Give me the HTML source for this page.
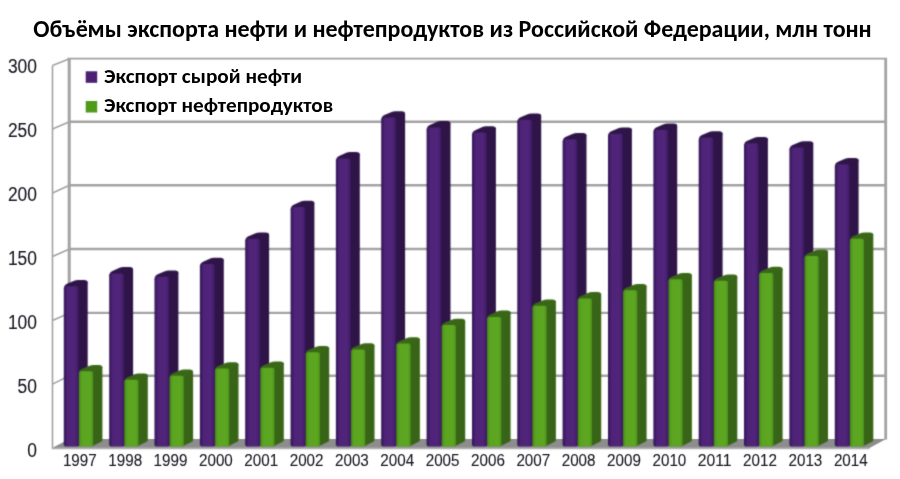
<!DOCTYPE html>
<html lang="ru"><head><meta charset="utf-8">
<title>Объёмы экспорта нефти и нефтепродуктов из Российской Федерации</title>
<style>
html,body{margin:0;padding:0;background:#fff;}
body{width:900px;height:479px;overflow:hidden;}
svg{display:block;}
.ttl{font-family:Carlito,"Liberation Sans",sans-serif;font-weight:bold;font-size:23.2px;fill:#000;font-size-adjust:0.485;}
.leg{font-family:Carlito,"Liberation Sans",sans-serif;font-weight:bold;font-size:20.6px;fill:#000;font-size-adjust:0.485;}
.ax{font-family:"Liberation Sans",Arial,sans-serif;fill:#1a1a24;}
</style></head><body>
<svg width="900" height="479" viewBox="0 0 900 479">
<defs>
<filter id="soft" x="0" y="0" width="100%" height="100%" filterUnits="userSpaceOnUse" color-interpolation-filters="sRGB"><feConvolveMatrix order="3" kernelMatrix="0.0361 0.1178 0.0361 0.1178 0.3846 0.1178 0.0361 0.1178 0.0361" edgeMode="duplicate" preserveAlpha="false"/></filter>
<filter id="softg" x="0" y="0" width="100%" height="100%" filterUnits="userSpaceOnUse" color-interpolation-filters="sRGB"><feConvolveMatrix order="3" kernelMatrix="0.0192 0.1001 0.0192 0.1001 0.5228 0.1001 0.0192 0.1001 0.0192" edgeMode="duplicate" preserveAlpha="false"/></filter>
<filter id="softt" x="0" y="0" width="100%" height="100%" filterUnits="userSpaceOnUse" color-interpolation-filters="sRGB"><feConvolveMatrix order="3" kernelMatrix="0.0113 0.0838 0.0113 0.0838 0.6193 0.0838 0.0113 0.0838 0.0113" edgeMode="duplicate" preserveAlpha="false"/></filter>
<linearGradient id="pf" x1="0" y1="0" x2="1" y2="0"><stop offset="0" stop-color="#2c124b"/><stop offset="0.1" stop-color="#3d1a64"/><stop offset="0.24" stop-color="#4e2378"/><stop offset="0.74" stop-color="#4f2479"/><stop offset="0.9" stop-color="#451e6d"/><stop offset="1" stop-color="#36155a"/></linearGradient>
<linearGradient id="gf" x1="0" y1="0" x2="1" y2="0"><stop offset="0" stop-color="#43801a"/><stop offset="0.1" stop-color="#50971d"/><stop offset="0.24" stop-color="#5ba520"/><stop offset="0.8" stop-color="#5ca621"/><stop offset="1" stop-color="#4f951c"/></linearGradient>
</defs>
<rect width="900" height="479" fill="#fff"/>
<g filter="url(#softg)">
<rect x="69.5" y="58.8" width="816.5" height="380.8" fill="#fff"/>
<polygon points="52.0,448.09999999999997 69.5,439.0 886.0,439.0 869.5,448.09999999999997" fill="#8d8d8d"/>
<line x1="52.0" y1="448.4" x2="869.5" y2="448.4" stroke="#b0b0b0" stroke-width="1.7"/>
<line x1="69.5" y1="375.8" x2="886.0" y2="375.8" stroke="#a3a3a3" stroke-width="2.4"/>
<line x1="69.5" y1="312.9" x2="886.0" y2="312.9" stroke="#a3a3a3" stroke-width="2.4"/>
<line x1="69.5" y1="249.0" x2="886.0" y2="249.0" stroke="#a3a3a3" stroke-width="2.4"/>
<line x1="69.5" y1="185.2" x2="886.0" y2="185.2" stroke="#a3a3a3" stroke-width="2.4"/>
<line x1="69.5" y1="121.7" x2="886.0" y2="121.7" stroke="#a3a3a3" stroke-width="2.4"/>
<line x1="67.5" y1="58.6" x2="887.0" y2="58.6" stroke="#a3a3a3" stroke-width="1.6"/>
<line x1="52.5" y1="384.1" x2="69.5" y2="375.8" stroke="#a3a3a3" stroke-width="1.6"/>
<line x1="52.5" y1="320.4" x2="69.5" y2="312.9" stroke="#a3a3a3" stroke-width="1.6"/>
<line x1="52.5" y1="256.6" x2="69.5" y2="249.0" stroke="#a3a3a3" stroke-width="1.6"/>
<line x1="52.5" y1="192.9" x2="69.5" y2="185.2" stroke="#a3a3a3" stroke-width="1.6"/>
<line x1="52.5" y1="129.1" x2="69.5" y2="121.7" stroke="#a3a3a3" stroke-width="1.6"/>
<line x1="52.5" y1="65.4" x2="69.5" y2="58.8" stroke="#a3a3a3" stroke-width="1.6"/>
<line x1="52.5" y1="65.4" x2="52.5" y2="448.5" stroke="#a3a3a3" stroke-width="1.6"/>
<line x1="69.2" y1="58.3" x2="69.2" y2="439.6" stroke="#a3a3a3" stroke-width="3.0"/>
<line x1="885.7" y1="58.3" x2="885.7" y2="439.6" stroke="#a3a3a3" stroke-width="2.8"/>
</g>
<g filter="url(#soft)">
<path d="M77.8,286.5 L86.1,281.0 Q87.7,280.6 87.7,282.6 L87.7,440.3 Q87.7,441.2 86.5,441.8 L77.8,446.3 Z" fill="#2e1447"/><path d="M64.0,287.9 Q64.1,285.4 66.5,284.1 L73.6,281.0 Q75.7,280.0 78.1,280.0 L84.3,280.0 Q87.6,280.2 87.7,283.0 L78.8,288.9 L64.0,288.9 Z" fill="#2e1447"/><path d="M63.8,444.5 L63.8,288.5 Q63.8,286.3 66.0,286.3 L76.6,286.3 Q78.8,286.3 78.8,288.5 L78.8,444.8 Q78.8,446.3 77.3,446.4 L65.4,446.4 Q63.8,446.3 63.8,444.5 Z" fill="url(#pf)"/>
<path d="M92.1,371.4 L100.8,365.9 Q102.4,365.5 102.4,367.5 L102.4,440.3 Q102.4,441.2 101.2,441.8 L92.1,446.3 Z" fill="#376417"/><path d="M79.0,372.8 Q79.1,370.3 81.5,369.0 L89.0,365.9 Q91.1,364.9 93.5,364.9 L99.0,364.9 Q102.3,365.1 102.4,367.9 L93.1,373.8 L79.0,373.8 Z" fill="#396717"/><path d="M78.8,444.5 L78.8,373.4 Q78.8,371.2 81.0,371.2 L90.9,371.2 Q93.1,371.2 93.1,373.4 L93.1,444.8 Q93.1,446.3 91.6,446.4 L80.4,446.4 Q78.8,446.3 78.8,444.5 Z" fill="url(#gf)"/>
<path d="M123.2,273.6 L131.5,268.1 Q133.1,267.7 133.1,269.7 L133.1,440.3 Q133.1,441.2 131.9,441.8 L123.2,446.3 Z" fill="#2e1447"/><path d="M109.4,275.0 Q109.5,272.5 111.9,271.2 L119.0,268.1 Q121.1,267.1 123.5,267.1 L129.7,267.1 Q133.0,267.3 133.1,270.1 L124.2,276.0 L109.4,276.0 Z" fill="#2e1447"/><path d="M109.2,444.5 L109.2,275.6 Q109.2,273.4 111.4,273.4 L122.0,273.4 Q124.2,273.4 124.2,275.6 L124.2,444.8 Q124.2,446.3 122.7,446.4 L110.8,446.4 Q109.2,446.3 109.2,444.5 Z" fill="url(#pf)"/>
<path d="M137.5,380.0 L146.2,374.5 Q147.8,374.1 147.8,376.1 L147.8,440.3 Q147.8,441.2 146.6,441.8 L137.5,446.3 Z" fill="#376417"/><path d="M124.4,381.4 Q124.5,378.9 126.9,377.6 L134.4,374.5 Q136.5,373.5 138.9,373.5 L144.4,373.5 Q147.7,373.7 147.8,376.5 L138.5,382.4 L124.4,382.4 Z" fill="#396717"/><path d="M124.2,444.5 L124.2,382.0 Q124.2,379.8 126.4,379.8 L136.3,379.8 Q138.5,379.8 138.5,382.0 L138.5,444.8 Q138.5,446.3 137.0,446.4 L125.8,446.4 Q124.2,446.3 124.2,444.5 Z" fill="url(#gf)"/>
<path d="M168.5,276.9 L176.8,271.4 Q178.4,271.0 178.4,273.0 L178.4,440.3 Q178.4,441.2 177.2,441.8 L168.5,446.3 Z" fill="#2e1447"/><path d="M154.7,278.3 Q154.8,275.8 157.2,274.5 L164.3,271.4 Q166.4,270.4 168.8,270.4 L175.0,270.4 Q178.3,270.6 178.4,273.4 L169.5,279.3 L154.7,279.3 Z" fill="#2e1447"/><path d="M154.5,444.5 L154.5,278.9 Q154.5,276.7 156.7,276.7 L167.3,276.7 Q169.5,276.7 169.5,278.9 L169.5,444.8 Q169.5,446.3 168.0,446.4 L156.1,446.4 Q154.5,446.3 154.5,444.5 Z" fill="url(#pf)"/>
<path d="M182.8,376.0 L191.5,370.5 Q193.1,370.1 193.1,372.1 L193.1,440.3 Q193.1,441.2 191.9,441.8 L182.8,446.3 Z" fill="#376417"/><path d="M169.7,377.4 Q169.8,374.9 172.2,373.6 L179.7,370.5 Q181.8,369.5 184.2,369.5 L189.7,369.5 Q193.0,369.7 193.1,372.5 L183.8,378.4 L169.7,378.4 Z" fill="#396717"/><path d="M169.5,444.5 L169.5,378.0 Q169.5,375.8 171.7,375.8 L181.6,375.8 Q183.8,375.8 183.8,378.0 L183.8,444.8 Q183.8,446.3 182.3,446.4 L171.1,446.4 Q169.5,446.3 169.5,444.5 Z" fill="url(#gf)"/>
<path d="M213.9,264.3 L222.2,258.8 Q223.8,258.4 223.8,260.4 L223.8,440.3 Q223.8,441.2 222.6,441.8 L213.9,446.3 Z" fill="#2e1447"/><path d="M200.1,265.7 Q200.2,263.2 202.6,261.9 L209.7,258.8 Q211.8,257.8 214.2,257.8 L220.4,257.8 Q223.7,258.0 223.8,260.8 L214.9,266.7 L200.1,266.7 Z" fill="#2e1447"/><path d="M199.9,444.5 L199.9,266.3 Q199.9,264.1 202.1,264.1 L212.7,264.1 Q214.9,264.1 214.9,266.3 L214.9,444.8 Q214.9,446.3 213.4,446.4 L201.5,446.4 Q199.9,446.3 199.9,444.5 Z" fill="url(#pf)"/>
<path d="M228.2,368.7 L236.9,363.2 Q238.5,362.8 238.5,364.8 L238.5,440.3 Q238.5,441.2 237.3,441.8 L228.2,446.3 Z" fill="#376417"/><path d="M215.1,370.1 Q215.2,367.6 217.6,366.3 L225.1,363.2 Q227.2,362.2 229.6,362.2 L235.1,362.2 Q238.4,362.4 238.5,365.2 L229.2,371.1 L215.1,371.1 Z" fill="#396717"/><path d="M214.9,444.5 L214.9,370.7 Q214.9,368.5 217.1,368.5 L227.0,368.5 Q229.2,368.5 229.2,370.7 L229.2,444.8 Q229.2,446.3 227.7,446.4 L216.5,446.4 Q214.9,446.3 214.9,444.5 Z" fill="url(#gf)"/>
<path d="M259.2,238.9 L267.5,233.4 Q269.1,233.0 269.1,235.0 L269.1,440.3 Q269.1,441.2 267.9,441.8 L259.2,446.3 Z" fill="#2e1447"/><path d="M245.4,240.3 Q245.5,237.8 247.9,236.5 L255.0,233.4 Q257.1,232.4 259.5,232.4 L265.7,232.4 Q269.0,232.6 269.1,235.4 L260.2,241.3 L245.4,241.3 Z" fill="#2e1447"/><path d="M245.2,444.5 L245.2,240.9 Q245.2,238.7 247.4,238.7 L258.0,238.7 Q260.2,238.7 260.2,240.9 L260.2,444.8 Q260.2,446.3 258.7,446.4 L246.8,446.4 Q245.2,446.3 245.2,444.5 Z" fill="url(#pf)"/>
<path d="M273.5,367.9 L282.2,362.4 Q283.8,362.0 283.8,364.0 L283.8,440.3 Q283.8,441.2 282.6,441.8 L273.5,446.3 Z" fill="#376417"/><path d="M260.4,369.3 Q260.5,366.8 262.9,365.5 L270.4,362.4 Q272.5,361.4 274.9,361.4 L280.4,361.4 Q283.7,361.6 283.8,364.4 L274.5,370.3 L260.4,370.3 Z" fill="#396717"/><path d="M260.2,444.5 L260.2,369.9 Q260.2,367.7 262.4,367.7 L272.3,367.7 Q274.5,367.7 274.5,369.9 L274.5,444.8 Q274.5,446.3 273.0,446.4 L261.8,446.4 Q260.2,446.3 260.2,444.5 Z" fill="url(#gf)"/>
<path d="M304.6,207.3 L312.8,201.8 Q314.4,201.4 314.4,203.4 L314.4,440.3 Q314.4,441.2 313.2,441.8 L304.6,446.3 Z" fill="#2e1447"/><path d="M290.8,208.7 Q290.9,206.2 293.2,204.9 L300.3,201.8 Q302.4,200.8 304.8,200.8 L311.1,200.8 Q314.3,201.0 314.4,203.8 L305.6,209.7 L290.8,209.7 Z" fill="#2e1447"/><path d="M290.6,444.5 L290.6,209.3 Q290.6,207.1 292.8,207.1 L303.4,207.1 Q305.6,207.1 305.6,209.3 L305.6,444.8 Q305.6,446.3 304.1,446.4 L292.2,446.4 Q290.6,446.3 290.6,444.5 Z" fill="url(#pf)"/>
<path d="M318.9,352.5 L327.6,347.0 Q329.2,346.6 329.2,348.6 L329.2,440.3 Q329.2,441.2 328.0,441.8 L318.9,446.3 Z" fill="#376417"/><path d="M305.8,353.9 Q305.9,351.4 308.2,350.1 L315.8,347.0 Q317.9,346.0 320.2,346.0 L325.8,346.0 Q329.1,346.2 329.2,349.0 L319.9,354.9 L305.8,354.9 Z" fill="#396717"/><path d="M305.6,444.5 L305.6,354.5 Q305.6,352.3 307.8,352.3 L317.7,352.3 Q319.9,352.3 319.9,354.5 L319.9,444.8 Q319.9,446.3 318.4,446.4 L307.2,446.4 Q305.6,446.3 305.6,444.5 Z" fill="url(#gf)"/>
<path d="M349.9,158.6 L358.2,153.1 Q359.8,152.7 359.8,154.7 L359.8,440.3 Q359.8,441.2 358.6,441.8 L349.9,446.3 Z" fill="#2e1447"/><path d="M336.1,160.0 Q336.2,157.5 338.6,156.2 L345.7,153.1 Q347.8,152.1 350.2,152.1 L356.4,152.1 Q359.7,152.3 359.8,155.1 L350.9,161.0 L336.1,161.0 Z" fill="#2e1447"/><path d="M335.9,444.5 L335.9,160.6 Q335.9,158.4 338.1,158.4 L348.7,158.4 Q350.9,158.4 350.9,160.6 L350.9,444.8 Q350.9,446.3 349.4,446.4 L337.5,446.4 Q335.9,446.3 335.9,444.5 Z" fill="url(#pf)"/>
<path d="M364.2,349.7 L372.9,344.2 Q374.5,343.8 374.5,345.8 L374.5,440.3 Q374.5,441.2 373.3,441.8 L364.2,446.3 Z" fill="#376417"/><path d="M351.1,351.1 Q351.2,348.6 353.6,347.3 L361.1,344.2 Q363.2,343.2 365.6,343.2 L371.1,343.2 Q374.4,343.4 374.5,346.2 L365.2,352.1 L351.1,352.1 Z" fill="#396717"/><path d="M350.9,444.5 L350.9,351.7 Q350.9,349.5 353.1,349.5 L363.0,349.5 Q365.2,349.5 365.2,351.7 L365.2,444.8 Q365.2,446.3 363.7,446.4 L352.5,446.4 Q350.9,446.3 350.9,444.5 Z" fill="url(#gf)"/>
<path d="M395.2,117.7 L403.5,112.2 Q405.1,111.8 405.1,113.8 L405.1,440.3 Q405.1,441.2 403.9,441.8 L395.2,446.3 Z" fill="#2e1447"/><path d="M381.4,119.1 Q381.6,116.6 383.9,115.3 L391.0,112.2 Q393.1,111.2 395.5,111.2 L401.8,111.2 Q405.0,111.4 405.1,114.2 L396.2,120.1 L381.4,120.1 Z" fill="#2e1447"/><path d="M381.2,444.5 L381.2,119.7 Q381.2,117.5 383.4,117.5 L394.1,117.5 Q396.2,117.5 396.2,119.7 L396.2,444.8 Q396.2,446.3 394.8,446.4 L382.9,446.4 Q381.2,446.3 381.2,444.5 Z" fill="url(#pf)"/>
<path d="M409.6,343.8 L418.2,338.3 Q419.9,337.9 419.9,339.9 L419.9,440.3 Q419.9,441.2 418.7,441.8 L409.6,446.3 Z" fill="#376417"/><path d="M396.4,345.2 Q396.6,342.7 398.9,341.4 L406.4,338.3 Q408.6,337.3 410.9,337.3 L416.5,337.3 Q419.8,337.5 419.9,340.3 L410.6,346.2 L396.4,346.2 Z" fill="#396717"/><path d="M396.2,444.5 L396.2,345.8 Q396.2,343.6 398.4,343.6 L408.4,343.6 Q410.6,343.6 410.6,345.8 L410.6,444.8 Q410.6,446.3 409.1,446.4 L397.9,446.4 Q396.2,446.3 396.2,444.5 Z" fill="url(#gf)"/>
<path d="M440.6,127.6 L448.9,122.1 Q450.5,121.7 450.5,123.7 L450.5,440.3 Q450.5,441.2 449.3,441.8 L440.6,446.3 Z" fill="#2e1447"/><path d="M426.8,129.0 Q426.9,126.5 429.3,125.2 L436.4,122.1 Q438.5,121.1 440.9,121.1 L447.1,121.1 Q450.4,121.3 450.5,124.1 L441.6,130.0 L426.8,130.0 Z" fill="#2e1447"/><path d="M426.6,444.5 L426.6,129.6 Q426.6,127.4 428.8,127.4 L439.4,127.4 Q441.6,127.4 441.6,129.6 L441.6,444.8 Q441.6,446.3 440.1,446.4 L428.2,446.4 Q426.6,446.3 426.6,444.5 Z" fill="url(#pf)"/>
<path d="M454.9,325.2 L463.6,319.7 Q465.2,319.3 465.2,321.3 L465.2,440.3 Q465.2,441.2 464.0,441.8 L454.9,446.3 Z" fill="#376417"/><path d="M441.8,326.6 Q441.9,324.1 444.3,322.8 L451.8,319.7 Q453.9,318.7 456.3,318.7 L461.8,318.7 Q465.1,318.9 465.2,321.7 L455.9,327.6 L441.8,327.6 Z" fill="#396717"/><path d="M441.6,444.5 L441.6,327.2 Q441.6,325.0 443.8,325.0 L453.7,325.0 Q455.9,325.0 455.9,327.2 L455.9,444.8 Q455.9,446.3 454.4,446.4 L443.2,446.4 Q441.6,446.3 441.6,444.5 Z" fill="url(#gf)"/>
<path d="M486.0,132.8 L494.2,127.3 Q495.9,126.9 495.9,128.9 L495.9,440.3 Q495.9,441.2 494.7,441.8 L486.0,446.3 Z" fill="#2e1447"/><path d="M472.2,134.2 Q472.3,131.7 474.7,130.4 L481.8,127.3 Q483.9,126.3 486.2,126.3 L492.5,126.3 Q495.8,126.5 495.9,129.3 L487.0,135.2 L472.2,135.2 Z" fill="#2e1447"/><path d="M472.0,444.5 L472.0,134.8 Q472.0,132.6 474.2,132.6 L484.8,132.6 Q487.0,132.6 487.0,134.8 L487.0,444.8 Q487.0,446.3 485.5,446.4 L473.6,446.4 Q472.0,446.3 472.0,444.5 Z" fill="url(#pf)"/>
<path d="M500.3,317.1 L509.0,311.6 Q510.6,311.2 510.6,313.2 L510.6,440.3 Q510.6,441.2 509.4,441.8 L500.3,446.3 Z" fill="#376417"/><path d="M487.2,318.5 Q487.3,316.0 489.7,314.7 L497.2,311.6 Q499.3,310.6 501.7,310.6 L507.2,310.6 Q510.5,310.8 510.6,313.6 L501.3,319.5 L487.2,319.5 Z" fill="#396717"/><path d="M487.0,444.5 L487.0,319.1 Q487.0,316.9 489.2,316.9 L499.1,316.9 Q501.3,316.9 501.3,319.1 L501.3,444.8 Q501.3,446.3 499.8,446.4 L488.6,446.4 Q487.0,446.3 487.0,444.5 Z" fill="url(#gf)"/>
<path d="M531.3,119.9 L539.6,114.4 Q541.2,114.0 541.2,116.0 L541.2,440.3 Q541.2,441.2 540.0,441.8 L531.3,446.3 Z" fill="#2e1447"/><path d="M517.5,121.3 Q517.6,118.8 520.0,117.5 L527.1,114.4 Q529.2,113.4 531.6,113.4 L537.8,113.4 Q541.1,113.6 541.2,116.4 L532.3,122.3 L517.5,122.3 Z" fill="#2e1447"/><path d="M517.3,444.5 L517.3,121.9 Q517.3,119.7 519.5,119.7 L530.1,119.7 Q532.3,119.7 532.3,121.9 L532.3,444.8 Q532.3,446.3 530.8,446.4 L518.9,446.4 Q517.3,446.3 517.3,444.5 Z" fill="url(#pf)"/>
<path d="M545.6,306.0 L554.3,300.5 Q555.9,300.1 555.9,302.1 L555.9,440.3 Q555.9,441.2 554.7,441.8 L545.6,446.3 Z" fill="#376417"/><path d="M532.5,307.4 Q532.6,304.9 535.0,303.6 L542.5,300.5 Q544.6,299.5 547.0,299.5 L552.5,299.5 Q555.8,299.7 555.9,302.5 L546.6,308.4 L532.5,308.4 Z" fill="#396717"/><path d="M532.3,444.5 L532.3,308.0 Q532.3,305.8 534.5,305.8 L544.4,305.8 Q546.6,305.8 546.6,308.0 L546.6,444.8 Q546.6,446.3 545.1,446.4 L533.9,446.4 Q532.3,446.3 532.3,444.5 Z" fill="url(#gf)"/>
<path d="M576.6,139.5 L584.9,134.0 Q586.5,133.6 586.5,135.6 L586.5,440.3 Q586.5,441.2 585.3,441.8 L576.6,446.3 Z" fill="#2e1447"/><path d="M562.9,140.9 Q562.9,138.4 565.4,137.1 L572.4,134.0 Q574.5,133.0 576.9,133.0 L583.1,133.0 Q586.4,133.2 586.5,136.0 L577.6,141.9 L562.9,141.9 Z" fill="#2e1447"/><path d="M562.6,444.5 L562.6,141.5 Q562.6,139.3 564.9,139.3 L575.4,139.3 Q577.6,139.3 577.6,141.5 L577.6,444.8 Q577.6,446.3 576.1,446.4 L564.2,446.4 Q562.6,446.3 562.6,444.5 Z" fill="url(#pf)"/>
<path d="M590.9,298.6 L599.6,293.1 Q601.2,292.7 601.2,294.7 L601.2,440.3 Q601.2,441.2 600.0,441.8 L590.9,446.3 Z" fill="#376417"/><path d="M577.9,300.0 Q577.9,297.5 580.4,296.2 L587.8,293.1 Q589.9,292.1 592.3,292.1 L597.8,292.1 Q601.1,292.3 601.2,295.1 L591.9,301.0 L577.9,301.0 Z" fill="#396717"/><path d="M577.6,444.5 L577.6,300.6 Q577.6,298.4 579.9,298.4 L589.7,298.4 Q591.9,298.4 591.9,300.6 L591.9,444.8 Q591.9,446.3 590.4,446.4 L579.2,446.4 Q577.6,446.3 577.6,444.5 Z" fill="url(#gf)"/>
<path d="M622.0,133.9 L630.3,128.4 Q631.9,128.0 631.9,130.0 L631.9,440.3 Q631.9,441.2 630.7,441.8 L622.0,446.3 Z" fill="#2e1447"/><path d="M608.2,135.3 Q608.3,132.8 610.7,131.5 L617.8,128.4 Q619.9,127.4 622.3,127.4 L628.5,127.4 Q631.8,127.6 631.9,130.4 L623.0,136.3 L608.2,136.3 Z" fill="#2e1447"/><path d="M608.0,444.5 L608.0,135.9 Q608.0,133.7 610.2,133.7 L620.8,133.7 Q623.0,133.7 623.0,135.9 L623.0,444.8 Q623.0,446.3 621.5,446.4 L609.6,446.4 Q608.0,446.3 608.0,444.5 Z" fill="url(#pf)"/>
<path d="M636.3,290.5 L645.0,285.0 Q646.6,284.6 646.6,286.6 L646.6,440.3 Q646.6,441.2 645.4,441.8 L636.3,446.3 Z" fill="#376417"/><path d="M623.2,291.9 Q623.3,289.4 625.7,288.1 L633.2,285.0 Q635.3,284.0 637.7,284.0 L643.2,284.0 Q646.5,284.2 646.6,287.0 L637.3,292.9 L623.2,292.9 Z" fill="#396717"/><path d="M623.0,444.5 L623.0,292.5 Q623.0,290.3 625.2,290.3 L635.1,290.3 Q637.3,290.3 637.3,292.5 L637.3,444.8 Q637.3,446.3 635.8,446.4 L624.6,446.4 Q623.0,446.3 623.0,444.5 Z" fill="url(#gf)"/>
<path d="M667.4,129.9 L675.6,124.4 Q677.2,124.0 677.2,126.0 L677.2,440.3 Q677.2,441.2 676.0,441.8 L667.4,446.3 Z" fill="#2e1447"/><path d="M653.6,131.3 Q653.6,128.8 656.1,127.5 L663.1,124.4 Q665.2,123.4 667.6,123.4 L673.9,123.4 Q677.1,123.6 677.2,126.4 L668.4,132.3 L653.6,132.3 Z" fill="#2e1447"/><path d="M653.4,444.5 L653.4,131.9 Q653.4,129.7 655.6,129.7 L666.1,129.7 Q668.4,129.7 668.4,131.9 L668.4,444.8 Q668.4,446.3 666.9,446.4 L655.0,446.4 Q653.4,446.3 653.4,444.5 Z" fill="url(#pf)"/>
<path d="M681.6,279.5 L690.3,274.0 Q691.9,273.6 691.9,275.6 L691.9,440.3 Q691.9,441.2 690.7,441.8 L681.6,446.3 Z" fill="#376417"/><path d="M668.6,280.9 Q668.6,278.4 671.1,277.1 L678.5,274.0 Q680.6,273.0 683.0,273.0 L688.5,273.0 Q691.8,273.2 691.9,276.0 L682.6,281.9 L668.6,281.9 Z" fill="#396717"/><path d="M668.4,444.5 L668.4,281.5 Q668.4,279.3 670.6,279.3 L680.4,279.3 Q682.6,279.3 682.6,281.5 L682.6,444.8 Q682.6,446.3 681.1,446.4 L670.0,446.4 Q668.4,446.3 668.4,444.5 Z" fill="url(#gf)"/>
<path d="M712.7,137.7 L721.0,132.2 Q722.6,131.8 722.6,133.8 L722.6,440.3 Q722.6,441.2 721.4,441.8 L712.7,446.3 Z" fill="#2e1447"/><path d="M698.9,139.1 Q699.0,136.6 701.4,135.3 L708.5,132.2 Q710.6,131.2 713.0,131.2 L719.2,131.2 Q722.5,131.4 722.6,134.2 L713.7,140.1 L698.9,140.1 Z" fill="#2e1447"/><path d="M698.7,444.5 L698.7,139.7 Q698.7,137.5 700.9,137.5 L711.5,137.5 Q713.7,137.5 713.7,139.7 L713.7,444.8 Q713.7,446.3 712.2,446.4 L700.3,446.4 Q698.7,446.3 698.7,444.5 Z" fill="url(#pf)"/>
<path d="M727.0,280.9 L735.7,275.4 Q737.3,275.0 737.3,277.0 L737.3,440.3 Q737.3,441.2 736.1,441.8 L727.0,446.3 Z" fill="#376417"/><path d="M713.9,282.3 Q714.0,279.8 716.4,278.5 L723.9,275.4 Q726.0,274.4 728.4,274.4 L733.9,274.4 Q737.2,274.6 737.3,277.4 L728.0,283.3 L713.9,283.3 Z" fill="#396717"/><path d="M713.7,444.5 L713.7,282.9 Q713.7,280.7 715.9,280.7 L725.8,280.7 Q728.0,280.7 728.0,282.9 L728.0,444.8 Q728.0,446.3 726.5,446.4 L715.3,446.4 Q713.7,446.3 713.7,444.5 Z" fill="url(#gf)"/>
<path d="M758.0,143.4 L766.3,137.9 Q767.9,137.5 767.9,139.5 L767.9,440.3 Q767.9,441.2 766.7,441.8 L758.0,446.3 Z" fill="#2e1447"/><path d="M744.2,144.8 Q744.3,142.3 746.8,141.0 L753.8,137.9 Q755.9,136.9 758.3,136.9 L764.5,136.9 Q767.8,137.1 767.9,139.9 L759.0,145.8 L744.2,145.8 Z" fill="#2e1447"/><path d="M744.0,444.5 L744.0,145.4 Q744.0,143.2 746.2,143.2 L756.8,143.2 Q759.0,143.2 759.0,145.4 L759.0,444.8 Q759.0,446.3 757.5,446.4 L745.6,446.4 Q744.0,446.3 744.0,444.5 Z" fill="url(#pf)"/>
<path d="M772.3,273.2 L781.0,267.7 Q782.6,267.3 782.6,269.3 L782.6,440.3 Q782.6,441.2 781.4,441.8 L772.3,446.3 Z" fill="#376417"/><path d="M759.2,274.6 Q759.3,272.1 761.8,270.8 L769.2,267.7 Q771.3,266.7 773.7,266.7 L779.2,266.7 Q782.5,266.9 782.6,269.7 L773.3,275.6 L759.2,275.6 Z" fill="#396717"/><path d="M759.0,444.5 L759.0,275.2 Q759.0,273.0 761.2,273.0 L771.1,273.0 Q773.3,273.0 773.3,275.2 L773.3,444.8 Q773.3,446.3 771.8,446.4 L760.6,446.4 Q759.0,446.3 759.0,444.5 Z" fill="url(#gf)"/>
<path d="M803.4,147.7 L811.7,142.2 Q813.3,141.8 813.3,143.8 L813.3,440.3 Q813.3,441.2 812.1,441.8 L803.4,446.3 Z" fill="#2e1447"/><path d="M789.6,149.1 Q789.7,146.6 792.1,145.3 L799.2,142.2 Q801.3,141.2 803.7,141.2 L809.9,141.2 Q813.2,141.4 813.3,144.2 L804.4,150.1 L789.6,150.1 Z" fill="#2e1447"/><path d="M789.4,444.5 L789.4,149.7 Q789.4,147.5 791.6,147.5 L802.2,147.5 Q804.4,147.5 804.4,149.7 L804.4,444.8 Q804.4,446.3 802.9,446.4 L791.0,446.4 Q789.4,446.3 789.4,444.5 Z" fill="url(#pf)"/>
<path d="M817.7,256.1 L826.4,250.6 Q828.0,250.2 828.0,252.2 L828.0,440.3 Q828.0,441.2 826.8,441.8 L817.7,446.3 Z" fill="#376417"/><path d="M804.6,257.5 Q804.7,255.0 807.1,253.7 L814.6,250.6 Q816.7,249.6 819.1,249.6 L824.6,249.6 Q827.9,249.8 828.0,252.6 L818.7,258.5 L804.6,258.5 Z" fill="#396717"/><path d="M804.4,444.5 L804.4,258.1 Q804.4,255.9 806.6,255.9 L816.5,255.9 Q818.7,255.9 818.7,258.1 L818.7,444.8 Q818.7,446.3 817.2,446.4 L806.0,446.4 Q804.4,446.3 804.4,444.5 Z" fill="url(#gf)"/>
<path d="M848.8,164.4 L857.0,158.9 Q858.6,158.5 858.6,160.5 L858.6,440.3 Q858.6,441.2 857.4,441.8 L848.8,446.3 Z" fill="#2e1447"/><path d="M835.0,165.8 Q835.0,163.3 837.5,162.0 L844.5,158.9 Q846.6,157.9 849.0,157.9 L855.2,157.9 Q858.5,158.1 858.6,160.9 L849.8,166.8 L835.0,166.8 Z" fill="#2e1447"/><path d="M834.8,444.5 L834.8,166.4 Q834.8,164.2 837.0,164.2 L847.5,164.2 Q849.8,164.2 849.8,166.4 L849.8,444.8 Q849.8,446.3 848.2,446.4 L836.4,446.4 Q834.8,446.3 834.8,444.5 Z" fill="url(#pf)"/>
<path d="M863.0,238.9 L871.7,233.4 Q873.3,233.0 873.3,235.0 L873.3,440.3 Q873.3,441.2 872.1,441.8 L863.0,446.3 Z" fill="#376417"/><path d="M850.0,240.3 Q850.0,237.8 852.5,236.5 L859.9,233.4 Q862.0,232.4 864.4,232.4 L869.9,232.4 Q873.2,232.6 873.3,235.4 L864.0,241.3 L850.0,241.3 Z" fill="#396717"/><path d="M849.8,444.5 L849.8,240.9 Q849.8,238.7 852.0,238.7 L861.8,238.7 Q864.0,238.7 864.0,240.9 L864.0,444.8 Q864.0,446.3 862.5,446.4 L851.4,446.4 Q849.8,446.3 849.8,444.5 Z" fill="url(#gf)"/>
</g>
<g class="ax" filter="url(#softt)" stroke="#1a1a24" stroke-width="0.12">
<text x="37.0" y="457.3" font-size="20.5" text-anchor="end" textLength="9.7" lengthAdjust="spacingAndGlyphs">0</text>
<text x="37.0" y="393.3" font-size="20.5" text-anchor="end" textLength="19.4" lengthAdjust="spacingAndGlyphs">50</text>
<text x="37.0" y="329.3" font-size="20.5" text-anchor="end" textLength="29.1" lengthAdjust="spacingAndGlyphs">100</text>
<text x="37.0" y="265.2" font-size="20.5" text-anchor="end" textLength="29.1" lengthAdjust="spacingAndGlyphs">150</text>
<text x="37.0" y="201.2" font-size="20.5" text-anchor="end" textLength="29.1" lengthAdjust="spacingAndGlyphs">200</text>
<text x="37.0" y="137.2" font-size="20.5" text-anchor="end" textLength="29.1" lengthAdjust="spacingAndGlyphs">250</text>
<text x="37.0" y="73.1" font-size="20.5" text-anchor="end" textLength="29.1" lengthAdjust="spacingAndGlyphs">300</text>
<text x="79.8" y="465.65" font-size="16.8" text-anchor="middle" textLength="33.8" lengthAdjust="spacingAndGlyphs">1997</text>
<text x="125.2" y="465.65" font-size="16.8" text-anchor="middle" textLength="33.8" lengthAdjust="spacingAndGlyphs">1998</text>
<text x="170.5" y="465.65" font-size="16.8" text-anchor="middle" textLength="33.8" lengthAdjust="spacingAndGlyphs">1999</text>
<text x="215.9" y="465.65" font-size="16.8" text-anchor="middle" textLength="33.8" lengthAdjust="spacingAndGlyphs">2000</text>
<text x="261.2" y="465.65" font-size="16.8" text-anchor="middle" textLength="33.8" lengthAdjust="spacingAndGlyphs">2001</text>
<text x="306.6" y="465.65" font-size="16.8" text-anchor="middle" textLength="33.8" lengthAdjust="spacingAndGlyphs">2002</text>
<text x="351.9" y="465.65" font-size="16.8" text-anchor="middle" textLength="33.8" lengthAdjust="spacingAndGlyphs">2003</text>
<text x="397.2" y="465.65" font-size="16.8" text-anchor="middle" textLength="33.8" lengthAdjust="spacingAndGlyphs">2004</text>
<text x="442.6" y="465.65" font-size="16.8" text-anchor="middle" textLength="33.8" lengthAdjust="spacingAndGlyphs">2005</text>
<text x="488.0" y="465.65" font-size="16.8" text-anchor="middle" textLength="33.8" lengthAdjust="spacingAndGlyphs">2006</text>
<text x="533.3" y="465.65" font-size="16.8" text-anchor="middle" textLength="33.8" lengthAdjust="spacingAndGlyphs">2007</text>
<text x="578.6" y="465.65" font-size="16.8" text-anchor="middle" textLength="33.8" lengthAdjust="spacingAndGlyphs">2008</text>
<text x="624.0" y="465.65" font-size="16.8" text-anchor="middle" textLength="33.8" lengthAdjust="spacingAndGlyphs">2009</text>
<text x="669.4" y="465.65" font-size="16.8" text-anchor="middle" textLength="33.8" lengthAdjust="spacingAndGlyphs">2010</text>
<text x="714.7" y="465.65" font-size="16.8" text-anchor="middle" textLength="33.8" lengthAdjust="spacingAndGlyphs">2011</text>
<text x="760.0" y="465.65" font-size="16.8" text-anchor="middle" textLength="33.8" lengthAdjust="spacingAndGlyphs">2012</text>
<text x="805.4" y="465.65" font-size="16.8" text-anchor="middle" textLength="33.8" lengthAdjust="spacingAndGlyphs">2013</text>
<text x="850.8" y="465.65" font-size="16.8" text-anchor="middle" textLength="33.8" lengthAdjust="spacingAndGlyphs">2014</text>
</g>
<text class="ttl" x="33.3" y="37.2" textLength="838.4" lengthAdjust="spacingAndGlyphs">Объёмы экспорта нефти и нефтепродуктов из Российской Федерации, млн тонн</text>
<rect x="85.7" y="71.3" width="11.5" height="11.5" fill="#4b1f73" filter="url(#softg)"/>
<text class="leg" x="104.0" y="82.6" textLength="198.0" lengthAdjust="spacingAndGlyphs">Экспорт сырой нефти</text>
<rect x="85.7" y="101.0" width="11.5" height="11.5" fill="#4f9a1a" filter="url(#softg)"/>
<text class="leg" x="104.0" y="112.3" textLength="229.2" lengthAdjust="spacingAndGlyphs">Экспорт нефтепродуктов</text>
</svg>
</body></html>
